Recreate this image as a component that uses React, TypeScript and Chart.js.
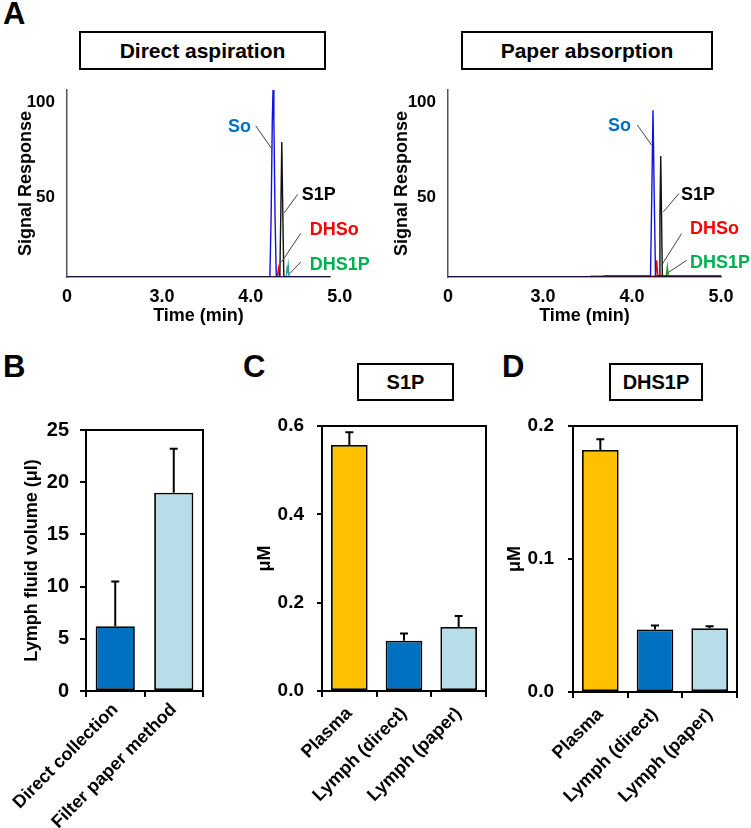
import React, { useEffect, useRef } from 'react';
import { Chart, registerables } from 'chart.js';
Chart.register(...registerables);

const FONT = "'Liberation Sans', Arial, Helvetica, sans-serif";

// ---------- Panel A: chromatograms (time in min, signal response) ----------
const chromXTicks = [3.0, 4.0, 5.0];
const chromYTicks = [50, 100];
const chromXMin = 1.933;
const chromYMin = 8;
const chromYMax = 106.4;

// Direct aspiration
const dirSoT = [1.933, 4.214, 4.228, 4.241, 4.25, 4.259, 4.272, 4.286, 4.89];
const dirSoV = [8, 8, 40, 90, 107, 90, 40, 8, 8];
const dirS1pT = [1.933, 4.326, 4.337, 4.348, 4.359, 4.371, 4.89];
const dirS1pV = [8, 8, 42, 79, 42, 8, 8];
const dirDhsoT = [1.933, 4.298, 4.311, 4.324, 4.89];
const dirDhsoV = [8, 8, 12.6, 8, 8];
const dirDhs1pT = [1.933, 4.398, 4.407, 4.413, 4.42, 4.431, 4.89];
const dirDhs1pV = [8, 8, 12.5, 11.5, 14.2, 8, 8];

// Paper absorption
const papSoT = [1.933, 3.65, 3.7, 4.208, 4.222, 4.236, 4.25, 4.264, 5.0];
const papSoV = [8, 8, 8.6, 8.6, 50, 95.8, 50, 8.6, 8.6];
const papS1pT = [1.933, 4.305, 4.314, 4.323, 4.332, 4.341, 5.0];
const papS1pV = [8, 8, 40, 71.6, 40, 8, 8];
const papDhsoT = [1.933, 3.5, 3.55, 4.265, 4.278, 4.29, 5.0];
const papDhsoV = [8, 8, 8.4, 8.4, 16.8, 8.4, 8.4];
const papDhs1pT = [1.933, 4.385, 4.397, 4.41, 5.0];
const papDhs1pV = [8, 8, 13.3, 8, 8];

// Peak labels and leader lines
const peakNames = ['So', 'S1P', 'DHSo', 'DHS1P'];
const peakLabelColors = ['#0070C0', '#000000', '#FF0000', '#00B050'];
const dirLabelT = [3.742, 4.573, 4.663, 4.663];
const dirLabelV = [86.8, 51, 32.6, 14.2];
const dirLeadT0 = [4.056, 4.525, 4.562, 4.562];
const dirLeadV0 = [87.5, 51.4, 31, 15.9];
const dirLeadT1 = [4.233, 4.374, 4.345, 4.438];
const dirLeadV1 = [75.6, 41.7, 15.9, 9.8];
const papLabelT = [3.73, 4.551, 4.652, 4.652];
const papLabelV = [87.4, 51, 33.2, 15.3];
const papLeadT0 = [4.06, 4.528, 4.558, 4.615];
const papLeadV0 = [87.9, 51.9, 30.9, 16.8];
const papLeadT1 = [4.221, 4.352, 4.333, 4.408];
const papLeadV1 = [77.4, 42.3, 14.2, 10.4];

// ---------- Panel B ----------
const bLabels = ['Direct collection', 'Filter paper method'];
const bValues = [6.2, 19.0];
const bErrors = [4.3, 4.2];
const bTicks = [0, 5, 10, 15, 20, 25];

// ---------- Panel C (S1P) ----------
const cdLabels = ['Plasma', 'Lymph (direct)', 'Lymph (paper)'];
const cValues = [0.557, 0.114, 0.145];
const cErrors = [0.029, 0.016, 0.025];
const cTicks = [0, 0.2, 0.4, 0.6];

// ---------- Panel D (DHS1P) ----------
const dValues = [0.182, 0.047, 0.048];
const dErrors = [0.008, 0.003, 0.0015];
const dTicks = [0, 0.1, 0.2];

const BLUE = '#0070C0';
const LIGHT = '#B7DEE8';
const GOLD = '#FFC000';

const bold = (size: number) => ({ family: FONT, size, weight: 'bold' as const });

function noPad(s: any) {
  s.paddingLeft = 0;
  s.paddingRight = 0;
  s.paddingTop = 0;
  s.paddingBottom = 0;
}

function makePeakPlugin(lt: number[], lv: number[], t0: number[], v0: number[], t1: number[], v1: number[]) {
  return {
    id: 'peakLabels',
    afterDatasetsDraw(chart: any) {
      const { ctx } = chart;
      const x = chart.scales.x;
      const y = chart.scales.y;
      ctx.save();
      ctx.strokeStyle = '#404040';
      ctx.lineWidth = 1;
      for (let i = 0; i < t0.length; i++) {
        ctx.beginPath();
        ctx.moveTo(x.getPixelForValue(t0[i]), y.getPixelForValue(v0[i]));
        ctx.lineTo(x.getPixelForValue(t1[i]), y.getPixelForValue(v1[i]));
        ctx.stroke();
      }
      ctx.font = `bold 18px ${FONT}`;
      ctx.textAlign = 'left';
      ctx.textBaseline = 'middle';
      for (let i = 0; i < peakNames.length; i++) {
        ctx.fillStyle = peakLabelColors[i];
        ctx.fillText(peakNames[i], x.getPixelForValue(lt[i]), y.getPixelForValue(lv[i]));
      }
      ctx.restore();
    },
  };
}

function chromConfig(
  traces: { t: number[]; v: number[]; color: string }[],
  xMax: number,
  yWidth: number,
  rightPad: number,
  yTitlePad: number,
  plugin: any
): any {
  return {
    type: 'line',
    data: {
      datasets: traces.map((tr) => ({
        data: tr.t.map((t, i) => ({ x: t, y: tr.v[i] })),
        borderColor: tr.color,
        borderWidth: 1.4,
        pointRadius: 0,
        tension: 0,
        fill: false,
      })),
    },
    options: {
      responsive: false,
      animation: false,
      events: [],
      layout: { autoPadding: false, padding: { left: 0, right: rightPad, top: 10, bottom: 0 } },
      plugins: { legend: { display: false }, tooltip: { enabled: false } },
      scales: {
        x: {
          type: 'linear',
          min: chromXMin,
          max: xMax,
          afterBuildTicks: (s: any) => {
            s.ticks = [{ value: chromXMin }, ...chromXTicks.map((v) => ({ value: v }))];
          },
          afterFit: (s: any) => {
            s.height = 53;
            noPad(s);
          },
          grid: { display: false },
          border: { display: true, color: '#555', width: 1.5 },
          ticks: {
            autoSkip: false,
            maxRotation: 0,
            minRotation: 0,
            padding: 1,
            color: '#000',
            font: bold(18),
            callback: (v: number) => (Math.abs(v - chromXMin) < 1e-6 ? '0' : Number(v).toFixed(1)),
          },
          title: { display: true, text: 'Time (min)', color: '#000', font: bold(18), padding: { top: 0, bottom: 3 } },
        },
        y: {
          type: 'linear',
          min: chromYMin,
          max: chromYMax,
          afterBuildTicks: (s: any) => {
            s.ticks = chromYTicks.map((v) => ({ value: v }));
          },
          afterFit: (s: any) => {
            s.width = yWidth;
            noPad(s);
          },
          grid: { display: false },
          border: { display: true, color: '#555', width: 1.5 },
          ticks: { padding: 4, color: '#000', font: bold(17), callback: (v: number) => String(v) },
          title: { display: true, text: 'Signal Response', color: '#000', font: bold(18), padding: { top: yTitlePad, bottom: 0 } },
        },
      },
    },
    plugins: [plugin],
  };
}

function makeErrorPlugin(errors: number[]) {
  return {
    id: 'errorBars',
    afterDatasetsDraw(chart: any) {
      const { ctx } = chart;
      const y = chart.scales.y;
      const meta = chart.getDatasetMeta(0);
      const vals = chart.data.datasets[0].data as number[];
      ctx.save();
      ctx.strokeStyle = '#000';
      ctx.lineWidth = 2;
      meta.data.forEach((bar: any, i: number) => {
        const x = bar.x;
        const y0 = y.getPixelForValue(vals[i]);
        const y1 = y.getPixelForValue(vals[i] + errors[i]);
        ctx.beginPath();
        ctx.moveTo(x, y0);
        ctx.lineTo(x, y1);
        ctx.moveTo(x - 4, y1);
        ctx.lineTo(x + 4, y1);
        ctx.stroke();
      });
      const a = chart.chartArea;
      ctx.lineWidth = 2;
      ctx.strokeRect(a.left, a.top, a.right - a.left, a.bottom - a.top);
      ctx.restore();
    },
  };
}

function barConfig(opts: {
  labels: string[];
  values: number[];
  errors: number[];
  colors: string[];
  ticks: number[];
  decimals: number;
  yTitle: string;
  yWidth: number;
  titlePad: number;
  tickPad: number;
  tickFont: number;
  tickLen: number;
  padTop: number;
  padRight: number;
  xHeight: number;
  xPad: number;
}): any {
  const t = opts.ticks;
  return {
    type: 'bar',
    data: {
      labels: opts.labels,
      datasets: [
        {
          data: opts.values,
          backgroundColor: opts.colors,
          borderColor: '#000',
          borderWidth: 1.8,
          borderSkipped: false,
          barPercentage: 0.67,
          categoryPercentage: 1,
        },
      ],
    },
    options: {
      responsive: false,
      animation: false,
      events: [],
      layout: { autoPadding: false, padding: { left: 0, right: opts.padRight, top: opts.padTop, bottom: 0 } },
      plugins: { legend: { display: false }, tooltip: { enabled: false } },
      scales: {
        x: {
          type: 'category',
          offset: true,
          afterFit: (s: any) => {
            s.height = opts.xHeight;
            noPad(s);
          },
          grid: { offset: true, drawOnChartArea: false, drawTicks: true, tickLength: 6, color: '#000', lineWidth: 2 },
          border: { display: true, color: '#000', width: 2 },
          ticks: { autoSkip: false, minRotation: 45, maxRotation: 45, padding: opts.xPad, color: '#000', font: bold(18) },
        },
        y: {
          type: 'linear',
          min: t[0],
          max: t[t.length - 1],
          afterBuildTicks: (s: any) => {
            s.ticks = t.map((v) => ({ value: v }));
          },
          afterFit: (s: any) => {
            s.width = opts.yWidth;
            noPad(s);
          },
          grid: { drawOnChartArea: false, drawTicks: true, tickLength: opts.tickLen, color: '#000', lineWidth: 2 },
          border: { display: true, color: '#000', width: 2 },
          ticks: {
            padding: opts.tickPad,
            color: '#000',
            font: bold(opts.tickFont),
            callback: (v: number) => Number(v).toFixed(opts.decimals),
          },
          title: { display: true, text: opts.yTitle, color: '#000', font: bold(18), padding: { top: opts.titlePad, bottom: 0 } },
        },
      },
    },
    plugins: [makeErrorPlugin(opts.errors)],
  };
}

function ChartBox({ left, top, width, height, make }: { left: number; top: number; width: number; height: number; make: () => any }) {
  const ref = useRef<HTMLCanvasElement>(null);
  useEffect(() => {
    const chart = new Chart(ref.current as HTMLCanvasElement, make());
    return () => chart.destroy();
  }, []);
  return (
    <div style={{ position: 'absolute', left, top, width, height }}>
      <canvas ref={ref} width={width} height={height} style={{ display: 'block', width, height }} />
    </div>
  );
}

function Letter({ text, left, top }: { text: string; left: number; top: number }) {
  return (
    <div style={{ position: 'absolute', left, top, font: `bold 31px ${FONT}`, lineHeight: '31px', color: '#000' }}>{text}</div>
  );
}

function TitleBox({ text, left, top, width, height, size }: { text: string; left: number; top: number; width: number; height: number; size: number }) {
  return (
    <div
      style={{
        position: 'absolute',
        left,
        top,
        width,
        height,
        boxSizing: 'border-box',
        border: '2px solid #000',
        display: 'flex',
        alignItems: 'center',
        justifyContent: 'center',
        font: `bold ${size}px ${FONT}`,
        color: '#000',
        background: '#fff',
      }}
    >
      {text}
    </div>
  );
}

export default function App() {
  return (
    <div style={{ position: 'absolute', left: 0, top: 0, width: 751, height: 828, background: '#fff', overflow: 'hidden' }}>
      <Letter text="A" left={3} top={-2} />
      <TitleBox text="Direct aspiration" left={79} top={31} width={247} height={39} size={21} />
      <TitleBox text="Paper absorption" left={461} top={31} width={252} height={39} size={21} />
      <ChartBox
        left={0}
        top={80}
        width={370}
        height={250}
        make={() =>
          chromConfig(
            [
              { t: dirS1pT, v: dirS1pV, color: '#111111' },
              { t: dirSoT, v: dirSoV, color: '#1010e0' },
              { t: dirDhsoT, v: dirDhsoV, color: '#ff0000' },
              { t: dirDhs1pT, v: dirDhs1pV, color: '#2e9a9a' },
            ],
            4.89,
            67,
            40,
            15,
            makePeakPlugin(dirLabelT, dirLabelV, dirLeadT0, dirLeadV0, dirLeadT1, dirLeadV1)
          )
        }
      />
      <ChartBox
        left={370}
        top={80}
        width={381}
        height={250}
        make={() =>
          chromConfig(
            [
              { t: papS1pT, v: papS1pV, color: '#111111' },
              { t: papSoT, v: papSoV, color: '#1010e0' },
              { t: papDhsoT, v: papDhsoV, color: '#ff0000' },
              { t: papDhs1pT, v: papDhs1pV, color: '#18a018' },
            ],
            5.0,
            78,
            30,
            21,
            makePeakPlugin(papLabelT, papLabelV, papLeadT0, papLeadV0, papLeadT1, papLeadV1)
          )
        }
      />

      <Letter text="B" left={3} top={351} />
      <Letter text="C" left={243} top={351} />
      <Letter text="D" left={502} top={351} />
      <TitleBox text="S1P" left={357} top={363} width={97} height={38} size={20} />
      <TitleBox text="DHS1P" left={609} top={363} width={94} height={38} size={20} />

      <ChartBox
        left={0}
        top={380}
        width={240}
        height={448}
        make={() =>
          barConfig({
            labels: bLabels,
            values: bValues,
            errors: bErrors,
            colors: [BLUE, LIGHT],
            ticks: bTicks,
            decimals: 0,
            yTitle: 'Lymph fluid volume (μl)',
            yWidth: 86,
            titlePad: 21,
            tickPad: 11,
            tickFont: 20,
            tickLen: 6,
            padTop: 50,
            padRight: 37,
            xHeight: 137,
            xPad: 2,
          })
        }
      />
      <ChartBox
        left={240}
        top={380}
        width={250}
        height={448}
        make={() =>
          barConfig({
            labels: cdLabels,
            values: cValues,
            errors: cErrors,
            colors: [GOLD, BLUE, LIGHT],
            ticks: cTicks,
            decimals: 1,
            yTitle: 'μM',
            yWidth: 82,
            titlePad: 14,
            tickPad: 13,
            tickFont: 19,
            tickLen: 5,
            padTop: 46,
            padRight: 4,
            xHeight: 137,
            xPad: 6,
          })
        }
      />
      <ChartBox
        left={490}
        top={380}
        width={261}
        height={448}
        make={() =>
          barConfig({
            labels: cdLabels,
            values: dValues,
            errors: dErrors,
            colors: [GOLD, BLUE, LIGHT],
            ticks: dTicks,
            decimals: 1,
            yTitle: 'μM',
            yWidth: 83,
            titlePad: 14,
            tickPad: 14,
            tickFont: 19,
            tickLen: 5,
            padTop: 46,
            padRight: 14,
            xHeight: 136,
            xPad: 6,
          })
        }
      />
    </div>
  );
}
